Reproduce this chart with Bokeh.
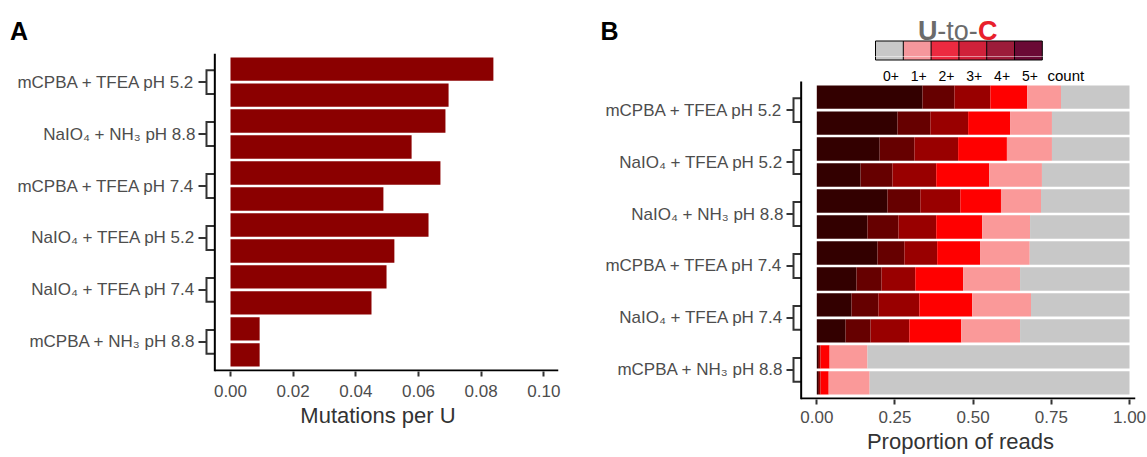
from bokeh.plotting import figure
from bokeh.layouts import row, column
from bokeh.models import Range1d, FixedTicker, NumeralTickFormatter, ColumnDataSource
from bokeh.core.properties import value
from bokeh.embed import file_html
from bokeh.resources import INLINE

FONT = "Liberation Sans"

# ---------------- data ----------------
# Panel A: mutations per U, two replicate bars per condition (top to bottom)
groups_a = ["mCPBA + TFEA pH 5.2", "NaIO\u2084 + NH\u2083 pH 8.8", "mCPBA + TFEA pH 7.4",
            "NaIO\u2084 + TFEA pH 5.2", "NaIO\u2084 + TFEA pH 7.4", "mCPBA + NH\u2083 pH 8.8"]
mutations_per_u = [0.0839, 0.0696, 0.0686, 0.0578, 0.0670, 0.0488,
                   0.0632, 0.0523, 0.0498, 0.0450, 0.0093, 0.0093]
ticks_a = [0.0, 0.02, 0.04, 0.06, 0.08, 0.10]

# Panel B: proportion of reads by U-to-C count, two replicate bars per condition
groups_b = ["mCPBA + TFEA pH 5.2", "NaIO\u2084 + TFEA pH 5.2", "NaIO\u2084 + NH\u2083 pH 8.8",
            "mCPBA + TFEA pH 7.4", "NaIO\u2084 + TFEA pH 7.4", "mCPBA + NH\u2083 pH 8.8"]
prop_5 = [0.338, 0.258, 0.201, 0.140, 0.226, 0.162, 0.194, 0.127, 0.111, 0.092, 0.004, 0.004]
prop_4 = [0.102, 0.105, 0.111, 0.102, 0.105, 0.099, 0.086, 0.080, 0.086, 0.080, 0.003, 0.003]
prop_3 = [0.115, 0.121, 0.140, 0.140, 0.128, 0.121, 0.105, 0.108, 0.131, 0.124, 0.005, 0.005]
prop_2 = [0.118, 0.134, 0.156, 0.169, 0.130, 0.147, 0.137, 0.153, 0.169, 0.166, 0.029, 0.026]
prop_1 = [0.108, 0.134, 0.144, 0.169, 0.128, 0.153, 0.159, 0.182, 0.188, 0.188, 0.121, 0.131]
prop_0 = [0.219, 0.248, 0.248, 0.280, 0.283, 0.318, 0.319, 0.350, 0.315, 0.350, 0.838, 0.831]
ticks_b = [0.0, 0.25, 0.50, 0.75, 1.00]

count_levels = ["0+", "1+", "2+", "3+", "4+", "5+"]

# ---------------- styles ----------------
bar_color_a = "#8B0000"
stack_colors = ["#330000", "#660000", "#990000", "#FF0000", "#FA9999", "#C8C8C8"]
legend_colors = ["#C8C8C8", "#F5979C", "#EC2A40", "#D0213A", "#9C1C3A", "#6A0A35"]

n_bars = len(mutations_per_u)
bar_y = [i + 1 for i in range(n_bars)]
group_y = [2 * i + 1.5 for i in range(len(groups_a))]


def make_panel(width, height, x_start, x_end, y_top, left_b, right_b, bottom_b, x_ticks,
               x_title, groups, label_standoff, title_standoff):
    p = figure(width=width, height=height, x_range=Range1d(x_start, x_end),
               y_range=Range1d(12.64, y_top), output_backend="svg", toolbar_location=None,
               tools="", min_border_left=left_b, min_border_right=right_b,
               min_border_top=0, min_border_bottom=bottom_b)
    p.outline_line_color = None
    p.xgrid.visible = False
    p.ygrid.visible = False
    xa = p.xaxis[0]
    xa.ticker = FixedTicker(ticks=x_ticks)
    xa.formatter = NumeralTickFormatter(format="0.00")
    xa.axis_line_color = None
    xa.major_tick_line_color = "#333333"
    xa.major_tick_line_width = 2
    xa.major_tick_out = 5
    xa.major_tick_in = 0
    xa.minor_tick_line_color = None
    xa.major_label_text_font = FONT
    xa.major_label_text_font_size = "17px"
    xa.major_label_text_color = "#4D4D4D"
    xa.major_label_standoff = label_standoff
    xa.axis_label = x_title
    xa.axis_label_text_font = FONT
    xa.axis_label_text_font_size = "22px"
    xa.axis_label_text_font_style = "normal"
    xa.axis_label_text_color = "#333333"
    xa.axis_label_standoff = title_standoff
    ya = p.yaxis[0]
    ya.ticker = FixedTicker(ticks=group_y)
    ya.major_label_overrides = {gy: g for gy, g in zip(group_y, groups)}
    ya.axis_line_color = None
    ya.major_tick_line_color = None
    ya.major_tick_out = 0
    ya.major_tick_in = 0
    ya.minor_tick_line_color = None
    ya.major_label_standoff = 2
    ya.major_label_text_font = FONT
    ya.major_label_text_font_size = "17px"
    ya.major_label_text_color = "#4D4D4D"
    return p


def add_axes_and_brackets(p, x_axis0, x_end, x_bracket, x_tick0):
    # brackets grouping replicate bars
    xs, ys = [], []
    for gy in group_y:
        xs.append([x_axis0, x_bracket, x_bracket, x_axis0])
        ys.append([gy - 0.46, gy - 0.46, gy + 0.46, gy + 0.46])
    p.multi_line(xs=xs, ys=ys, line_color="#333333", line_width=2, line_join="miter")
    p.segment(x0=[x_tick0] * len(group_y), y0=group_y, x1=[x_bracket] * len(group_y),
              y1=group_y, line_color="#333333", line_width=2)
    # axis lines
    p.segment(x0=[x_axis0, x_axis0], y0=[0.4, 12.6], x1=[x_axis0, x_end], y1=[12.64, 12.6],
              line_color="black", line_width=2)


# ---------------- Panel A ----------------
pa = make_panel(598, 404, -0.01053, 0.10468, 0.4, 197, 40, 86, ticks_a, "Mutations per U",
                groups_a, 8, 3)
pa.hbar(y=bar_y, left=0, right=mutations_per_u, height=0.9,
        fill_color=bar_color_a, line_color=None)
add_axes_and_brackets(pa, -0.005, 0.10468, -0.00766, -0.01021)

hdr_a = figure(width=598, height=53, x_range=Range1d(0, 598), y_range=Range1d(53, 0),
               x_axis_type=None, y_axis_type=None, output_backend="svg",
               toolbar_location=None, tools="", min_border=0)
hdr_a.outline_line_color = None
hdr_a.text(x=[9.5], y=[30], text=["A"], text_font=value(FONT), text_font_size=value("25px"),
           text_font_style="bold", text_color="black", text_baseline="alphabetic",
           text_align="left")

# ---------------- Panel B ----------------
HDR_B = 56                      # height of the header strip above panel B (px)
PX0 = 598                       # left pixel of the panel B column
X0_PX, X_SCALE = 816.3, 312.7   # panel B: pixel of x=0 and pixels per unit
Y_TOP_PX, Y_SCALE = 81.0, 25.98 # panel B: pixel of y=0.4 and pixels per unit


def bx(px):
    return (px - X0_PX) / X_SCALE


def by(py):
    return 0.4 + (py - Y_TOP_PX) / Y_SCALE


pb = make_panel(549, 457 - HDR_B, bx(785), bx(1135), by(HDR_B), 187, 12, 58, ticks_b,
                "Proportion of reads", groups_b, 6, 3)
src = ColumnDataSource(dict(y=bar_y, n5=prop_5, n4=prop_4, n3=prop_3, n2=prop_2,
                            n1=prop_1, n0=prop_0))
pb.hbar_stack(["n5", "n4", "n3", "n2", "n1", "n0"], y="y", height=0.9,
              fill_color=stack_colors, line_color=None, source=src)
add_axes_and_brackets(pb, -0.05, bx(1135), bx(793), bx(786))

# header strip for panel B: panel letter, key title and upper part of the colour key
hdr_b = figure(width=549, height=HDR_B, x_range=Range1d(PX0, PX0 + 549),
               y_range=Range1d(HDR_B, 0), x_axis_type=None, y_axis_type=None,
               output_backend="svg", toolbar_location=None, tools="", min_border=0)
hdr_b.outline_line_color = None
hdr_b.text(x=[PX0 + 2], y=[30], text=["B"], text_font=value(FONT),
           text_font_size=value("25px"), text_font_style="bold", text_color="black",
           text_baseline="alphabetic", text_align="left")
hdr_b.text(x=[PX0 + 339], y=[30], text=["U"], text_font=value(FONT),
           text_font_size=value("27px"), text_font_style="bold", text_color="#6B6B6B",
           text_baseline="alphabetic", text_align="right")
hdr_b.text(x=[PX0 + 359], y=[30], text=["-to-"], text_font=value(FONT),
           text_font_size=value("27px"), text_font_style="normal", text_color="#6B6B6B",
           text_baseline="alphabetic", text_align="center")
hdr_b.text(x=[PX0 + 379.5], y=[30], text=["C"], text_font=value(FONT),
           text_font_size=value("27px"), text_font_style="bold", text_color="#E8202C",
           text_baseline="alphabetic", text_align="left")

# colour key: cells span the header strip and the top of panel B
# (each part runs a little past the shared edge, where it is clipped, so no seam shows)
cell_px = 27.8
key_top, key_bottom = 40.5, 59.5
overrun = 3
cell_left_px = [875 + i * cell_px for i in range(len(count_levels))]
cell_edges_px = cell_left_px + [cell_left_px[-1] + cell_px]

hdr_b.quad(left=cell_left_px, right=[l + cell_px for l in cell_left_px],
           top=[key_top] * 6, bottom=[HDR_B + overrun] * 6, fill_color=legend_colors,
           line_color=None)
hdr_b.segment(x0=cell_edges_px, y0=[key_top] * 7, x1=cell_edges_px,
              y1=[HDR_B + overrun] * 7, line_color="black", line_width=1)
hdr_b.segment(x0=[cell_edges_px[0]], y0=[key_top], x1=[cell_edges_px[-1]], y1=[key_top],
              line_color="black", line_width=1)

pb.quad(left=[bx(l) for l in cell_left_px], right=[bx(l + cell_px) for l in cell_left_px],
        top=[by(HDR_B - overrun)] * 6, bottom=[by(key_bottom)] * 6,
        fill_color=legend_colors, line_color=None)
pb.segment(x0=[bx(e) for e in cell_edges_px], y0=[by(HDR_B - overrun)] * 7,
           x1=[bx(e) for e in cell_edges_px], y1=[by(key_bottom)] * 7,
           line_color="black", line_width=1)
pb.segment(x0=[bx(cell_edges_px[0])], y0=[by(key_bottom)], x1=[bx(cell_edges_px[-1])],
           y1=[by(key_bottom)], line_color="black", line_width=1)
pb.text(x=[bx(l + cell_px / 2 + 1.5) for l in cell_left_px], y=[by(75)] * 6,
        text=count_levels, text_font=value(FONT), text_font_size=value("14px"),
        text_color="black", text_baseline="alphabetic", text_align="center")
pb.text(x=[bx(1047)], y=[by(75)], text=["count"], text_font=value(FONT),
        text_font_size=value("15px"), text_color="black", text_baseline="alphabetic",
        text_align="left")

layout = row(column(row(hdr_a), row(pa)), column(row(hdr_b), row(pb)))

open("out.html", "w").write(file_html(layout, INLINE))
